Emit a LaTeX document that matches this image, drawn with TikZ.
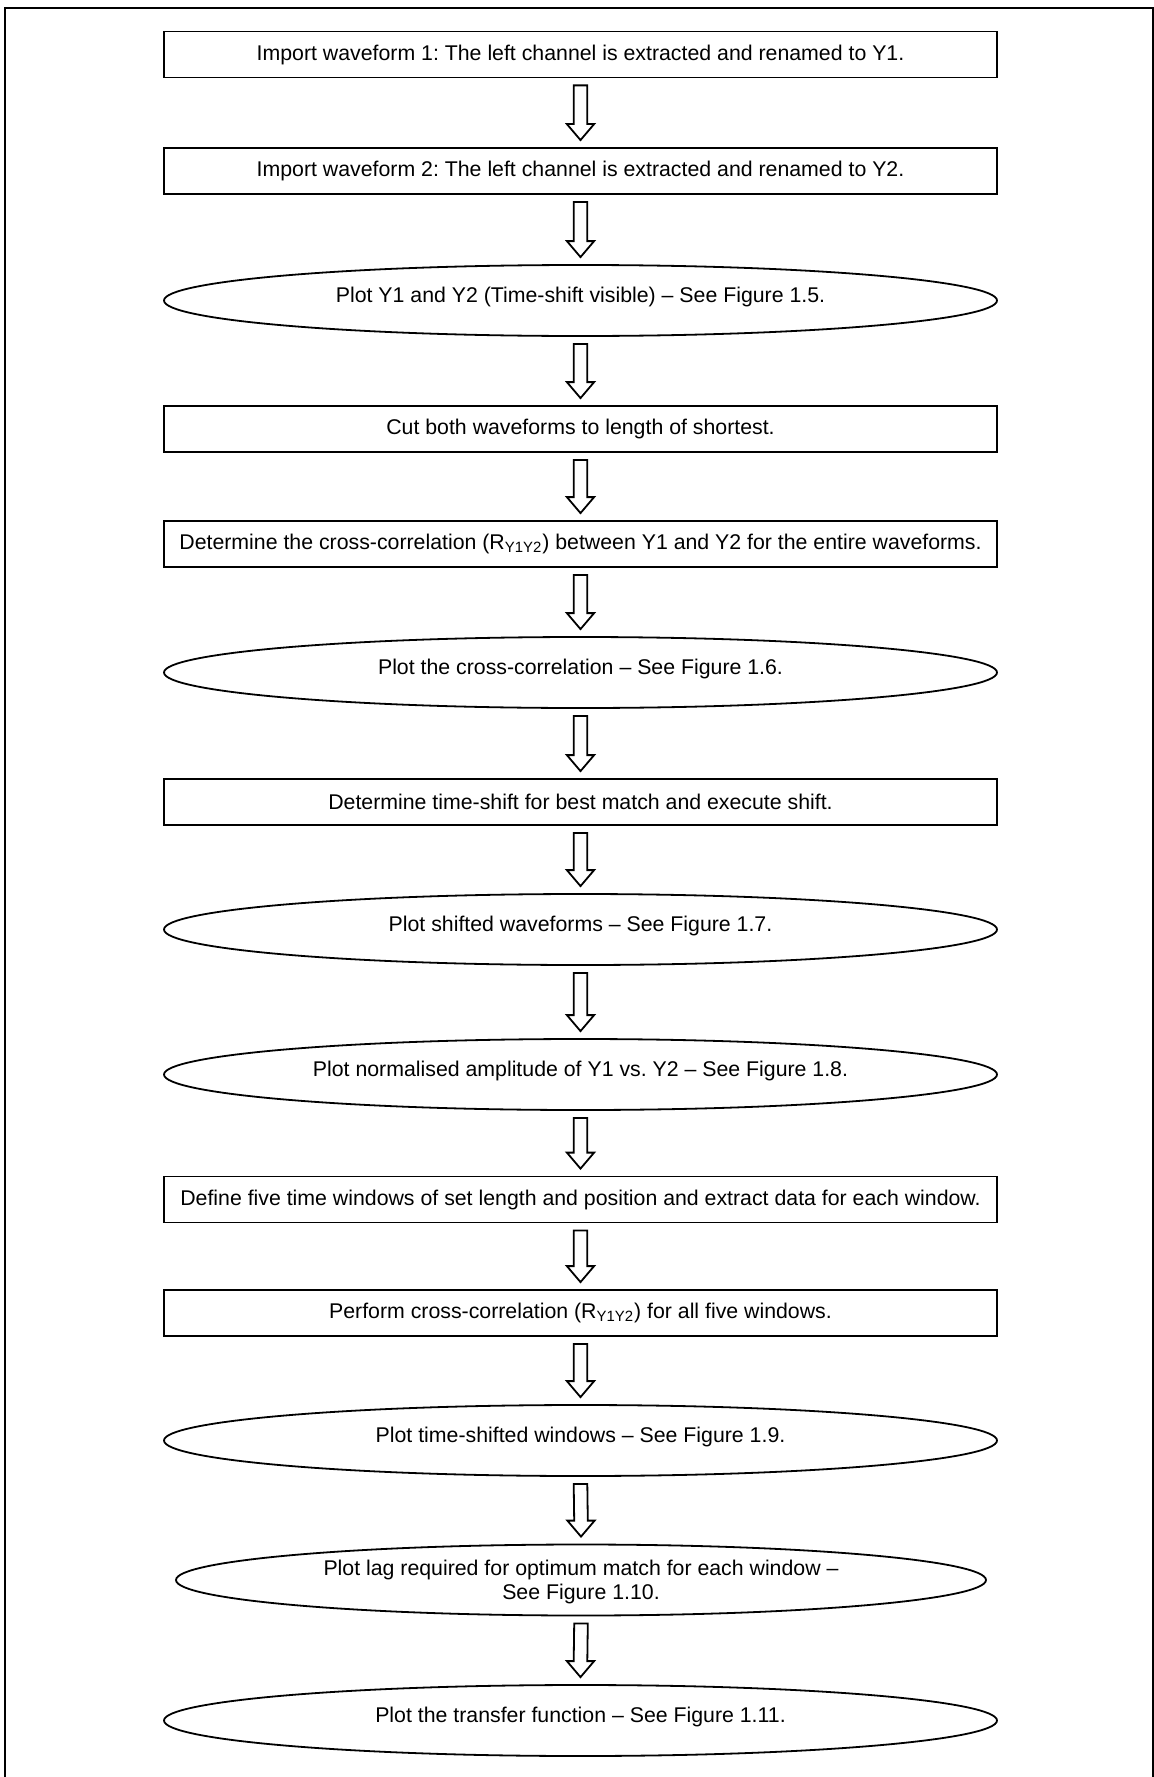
\documentclass[tikz,border=0pt]{standalone}
\usepackage{fontspec}
\setmainfont{Liberation Sans}
\usetikzlibrary{shapes.geometric,calc}
\frenchspacing

\tikzset{
  blockarrow/.style={line width=0.9pt, to path={
      ($(\tikztostart)+(-3.4pt,-3.5pt)$) -- ($(\tikztostart)+(3.4pt,-3.5pt)$)
      -- ($(\tikztotarget)+(3.4pt,11.5pt)$) -- ($(\tikztotarget)+(6.8pt,11.5pt)$)
      -- ($(\tikztotarget)+(0pt,3.5pt)$) -- ($(\tikztotarget)+(-6.8pt,11.5pt)$)
      -- ($(\tikztotarget)+(-3.4pt,11.5pt)$) -- cycle}}
}

\begin{document}
\begin{tikzpicture}[x=0.5pt,y=-0.5pt,
    every node/.style={font=\fontsize{10.65}{12}\selectfont},
    stepbox/.style={draw,line width=0.9pt,rectangle,minimum width=416.5pt,minimum height=23pt,inner sep=0pt},
    plotoval/.style={draw,line width=0.9pt,ellipse,minimum width=416.5pt,minimum height=35.5pt,inner sep=0pt,align=center,text depth=6pt}]
                \useasboundingbox (0,0) rectangle (1153,1777);
                \draw[line width=1pt] (5,1777) -- (5,8) -- (1152.5,8) -- (1152.5,1777);
                \node[stepbox] (imp1) at (580.5,54.5) {Import waveform 1: The left channel is extracted and renamed to Y1.};
                \node[stepbox] (imp2) at (580.5,171) {Import waveform 2: The left channel is extracted and renamed to Y2.};
                \node[plotoval] (plotraw) at (580.5,300.5) {Plot Y1 and Y2 (Time-shift visible) -- See Figure 1.5.};
                \node[stepbox] (cut) at (580.5,429) {Cut both waveforms to length of shortest.};
                \node[stepbox] (xcorr) at (580.5,544) {Determine the cross-correlation (R\textsubscript{Y1Y2}) between Y1 and Y2 for the entire waveforms.};
                \node[plotoval] (plotxcorr) at (580.5,672.5) {Plot the cross-correlation -- See Figure 1.6.};
                \node[stepbox] (shift) at (580.5,802) {Determine time-shift for best match and execute shift.};
                \node[plotoval] (plotshift) at (580.5,929.5) {Plot shifted waveforms -- See Figure 1.7.};
                \node[plotoval] (plotnorm) at (580.5,1074.5) {Plot normalised amplitude of Y1 vs. Y2 -- See Figure 1.8.};
                \node[stepbox] (windows) at (580.5,1199.5) {Define five time windows of set length and position and extract data for each window.};
                \node[stepbox] (wxcorr) at (580.5,1313) {Perform cross-correlation (R\textsubscript{Y1Y2}) for all five windows.};
                \node[plotoval] (plotwin) at (580.5,1440.5) {Plot time-shifted windows -- See Figure 1.9.};
                \node[plotoval,minimum width=405pt,text depth=0pt] (plotlag) at (581,1580) {Plot lag required for optimum match for each window --\\See Figure 1.10.};
                \node[plotoval] (plottf) at (580.5,1720.5) {Plot the transfer function -- See Figure 1.11.};
                \draw[blockarrow] (imp1.south) to (imp2.north);
                \draw[blockarrow] (imp2.south) to (plotraw.north);
                \draw[blockarrow] (plotraw.south) to (cut.north);
                \draw[blockarrow] (cut.south) to (xcorr.north);
                \draw[blockarrow] (xcorr.south) to (plotxcorr.north);
                \draw[blockarrow] (plotxcorr.south) to (shift.north);
                \draw[blockarrow] (shift.south) to (plotshift.north);
                \draw[blockarrow] (plotshift.south) to (plotnorm.north);
                \draw[blockarrow] (plotnorm.south) to (windows.north);
                \draw[blockarrow] (windows.south) to (wxcorr.north);
                \draw[blockarrow] (wxcorr.south) to (plotwin.north);
                \draw[blockarrow] (plotwin.south) to (plotlag.north);
                \draw[blockarrow] (plotlag.south) to (plottf.north);
\end{tikzpicture}
\end{document}
